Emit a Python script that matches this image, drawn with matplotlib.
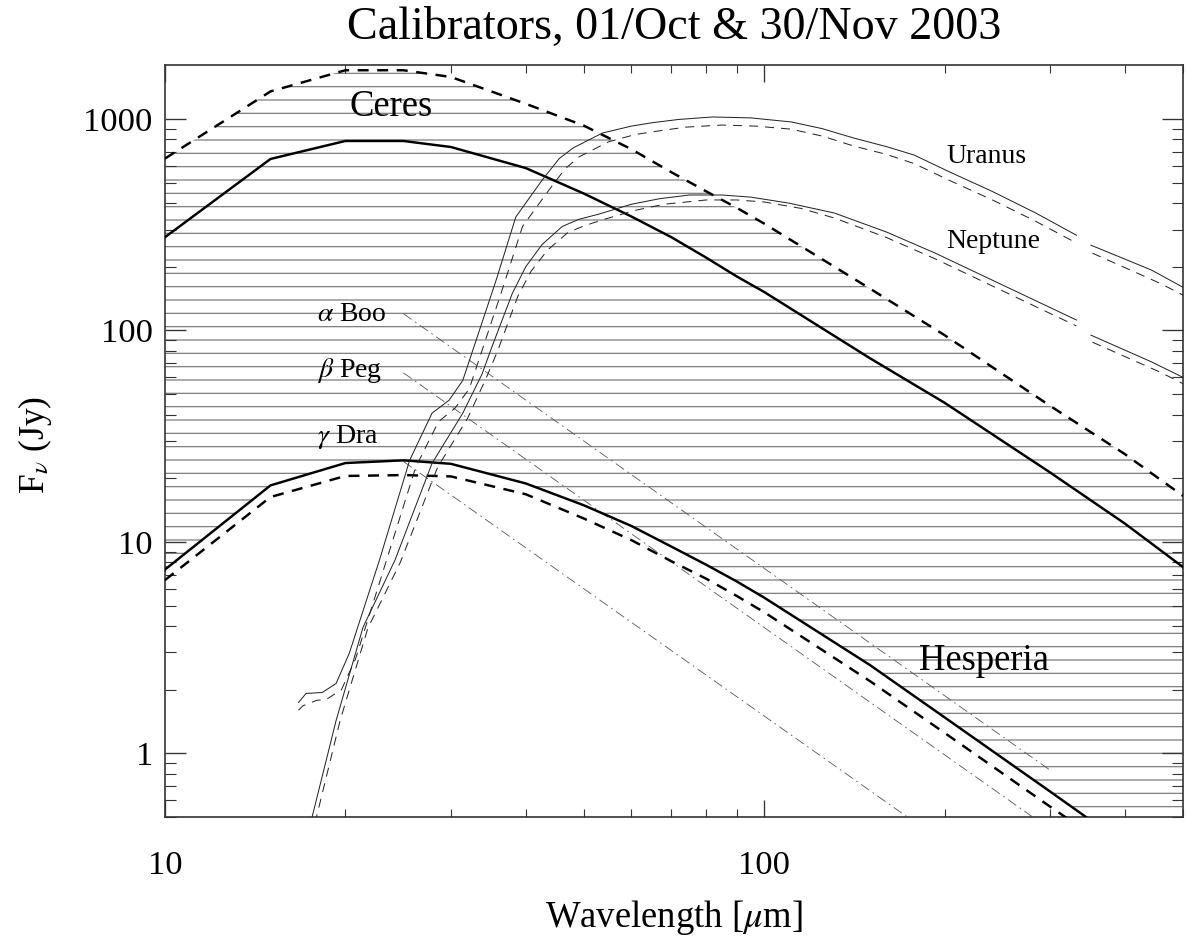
import numpy as np
import matplotlib
matplotlib.use("Agg")
import matplotlib.pyplot as plt
from matplotlib.ticker import LogLocator, NullFormatter, FixedLocator

plt.rcParams['font.family'] = ['Liberation Serif', 'DejaVu Serif']
plt.rcParams['mathtext.fontset'] = 'stix'
plt.rcParams['hatch.linewidth'] = 1.1

# asteroid model grid (micron) and fluxes (Jy), solid = 01/Oct, dashed = 30/Nov
ast_wl = [10, 15, 20, 25, 30, 40, 50, 60, 70, 80, 90, 100, 150, 200, 300, 400, 500]
ceres_solid = [276, 647, 787, 787, 737, 586, 444, 346, 276, 221, 180, 152, 74, 45.5, 21.3, 12.2, 7.6]
ceres_dash = [650, 1350, 1700, 1700, 1580, 1180, 930, 720, 560, 455, 380, 320, 158, 95, 44, 26, 16.5]
hesp_solid = [7.4, 18.5, 23.6, 24.3, 23.4, 18.9, 14.9, 11.9, 9.5, 7.8, 6.5, 5.45, 2.62, 1.48, 0.66, 0.37, 0.24]
hesp_dash = [6.6, 16.3, 20.5, 20.7, 20.4, 16.8, 12.9, 10.2, 8.1, 6.7, 5.55, 4.65, 2.2, 1.25, 0.56, 0.32, 0.2]

# planets (nan marks the gap in the model)
uranus_wl = [16.7, 17.2, 18.3, 19.3, 20.3, 22.8, 25.6, 27.9, 29.8, 31.4, 35.7, 38.5, 42.6, 45.5, 48,
             53.7, 60, 65, 72, 82, 95, 111, 125, 141, 160, 178, 203, 240, 284, 332, 340, 351, 443, 500]
uranus_f = [1.74, 1.92, 1.94, 2.14, 2.97, 8.2, 24.3, 40.6, 46.8, 58, 173, 344, 514, 650, 730,
            858, 925, 960, 995, 1022, 1012, 968, 900, 813, 740, 675, 565, 455, 359, 282, np.nan, 253, 193, 160]
uranus_d_wl = [16.7, 17.0, 17.9, 18.6, 19.7, 20.8, 23.3, 26.2, 28.6, 30.5, 32.2, 36.6, 39.5, 43.7, 46.5, 49,
               55, 61, 67, 74, 85, 97, 111, 125, 141, 160, 178, 203, 240, 284, 332, 340, 353, 458, 500]
uranus_d_f = [1.6, 1.68, 1.78, 1.8, 2.0, 2.8, 7.8, 22.5, 37, 43, 53, 158, 310, 460, 580, 660,
              780, 845, 880, 915, 936, 925, 895, 830, 745, 680, 615, 515, 415, 328, 259, np.nan, 232, 167, 147]
neptune_wl = [17.2, 17.6, 19.3, 21.4, 24.2, 27.9, 31.4, 33.8, 35.2, 38.0, 40.0, 42.6, 46, 49, 53, 60, 67,
              75, 85, 95, 110, 131, 160, 193, 332, 340, 351, 443, 500]
neptune_f = [0.4, 0.5, 1.43, 3.94, 8.2, 23.5, 40.6, 62, 85, 150, 200, 255, 310, 335, 355, 395, 420,
             437, 437, 427, 400, 359, 292, 232, 112, np.nan, 95, 71, 60]
neptune_d_wl = [17.3, 17.9, 19.6, 21.8, 24.7, 28.5, 32.0, 34.4, 35.9, 38.8, 40.8, 43.5, 47, 50, 54, 61, 68,
                80, 90, 100, 115, 131, 160, 193, 332, 340, 353, 458, 500]
neptune_d_f = [0.4, 0.5, 1.43, 3.9, 8.0, 22.5, 38.5, 60, 80, 145, 190, 240, 290, 312, 335, 370, 395,
               414, 414, 405, 378, 340, 275, 218, 105, np.nan, 88, 63.5, 56]

# stars, Rayleigh-Jeans tails
star_wl = [25, 300]
alpha_boo = [120, 0.833]
beta_peg = [63, 0.4375]
gamma_dra = [24, 0.167]

fig = plt.figure(figsize=(1186 / 80, 937 / 80), dpi=80)
ax = fig.add_axes([165 / 1186, 120 / 937, 1018 / 1186, 752 / 937])
ax.set_xscale('log')
ax.set_yscale('log')

# hatched band between the brightest and faintest asteroid
ax.fill_between(ast_wl, hesp_solid, ceres_dash, facecolor='none', edgecolor='#7a7a7a',
                hatch='-', linewidth=0, zorder=1)

thick = 2.2
ax.plot(ast_wl, ceres_solid, color='black', lw=thick, zorder=3)
ax.plot(ast_wl, ceres_dash, color='black', lw=thick, ls=(0, (4.5, 3.5)), zorder=3)
ax.plot(ast_wl, hesp_solid, color='black', lw=thick, zorder=3)
ax.plot(ast_wl, hesp_dash, color='black', lw=thick, ls=(0, (4.5, 3.5)), zorder=3)

thin = 0.9
ax.plot(uranus_wl, uranus_f, color='#222222', lw=thin, zorder=3)
ax.plot(uranus_d_wl, uranus_d_f, color='#222222', lw=thin, ls=(0, (9, 7)), zorder=3)
ax.plot(neptune_wl, neptune_f, color='#222222', lw=thin, zorder=3)
ax.plot(neptune_d_wl, neptune_d_f, color='#222222', lw=thin, ls=(0, (9, 7)), zorder=3)

for flux in (alpha_boo, beta_peg, gamma_dra):
    ax.plot(star_wl, flux, color='#555555', lw=0.75, ls=(0, (12, 5, 2, 5)), zorder=2)

ax.set_xlim(10, 500)
ax.set_ylim(0.5, 1800)

ax.xaxis.set_major_locator(FixedLocator([10, 100]))
ax.xaxis.set_minor_locator(LogLocator(base=10, subs=np.arange(2, 10)))
ax.xaxis.set_minor_formatter(NullFormatter())
ax.set_xticklabels(['10', '100'])
ax.yaxis.set_major_locator(FixedLocator([1, 10, 100, 1000]))
ax.yaxis.set_minor_locator(LogLocator(base=10, subs=np.arange(2, 10)))
ax.yaxis.set_minor_formatter(NullFormatter())
ax.set_yticklabels(['1', '10', '100', '1000'])

ax.tick_params(which='both', direction='in', top=True, right=True, color='#333333')
ax.tick_params(axis='x', which='major', length=15, width=1.2, pad=30, labelsize=31)
ax.tick_params(axis='x', which='minor', length=7.5, width=1.0)
ax.tick_params(axis='y', which='major', length=19, width=1.2, pad=11, labelsize=31)
ax.tick_params(axis='y', which='minor', length=9.5, width=1.0)
for sp in ax.spines.values():
    sp.set_linewidth(1.5)
    sp.set_color('#333333')

ax.set_xlabel(r'Wavelength [$\mu$m]', fontsize=33)
ax.xaxis.label.set_va('center')
ax.xaxis.set_label_coords(0.5, -0.133)
ax.set_ylabel(r'F$_\nu$ (Jy)', fontsize=32)
ax.yaxis.label.set_va('center')
ax.yaxis.set_label_coords(-0.128, 0.495)

fig.text(674 / 1186, 1 - 28 / 937, 'Calibrators, 01/Oct & 30/Nov 2003', fontsize=41.5,
         ha='center', va='center')

ax.text(23.8, 1140, 'Ceres', fontsize=33, ha='center', va='center', zorder=4)
ax.text(233, 2.75, 'Hesperia', fontsize=33, ha='center', va='center', zorder=4)
ax.text(235, 661, 'Uranus', fontsize=25, ha='center', va='center', zorder=4)
ax.text(241, 262, 'Neptune', fontsize=25, ha='center', va='center', zorder=4)
ax.text(17.9, 119, r'$\alpha$ Boo', fontsize=25, ha='left', va='center', zorder=4)
ax.text(17.9, 64.9, r'$\beta$ Peg', fontsize=25, ha='left', va='center', zorder=4)
ax.text(17.9, 31.3, r'$\gamma$ Dra', fontsize=25, ha='left', va='center', zorder=4)

fig.savefig('out.png', dpi=80)
